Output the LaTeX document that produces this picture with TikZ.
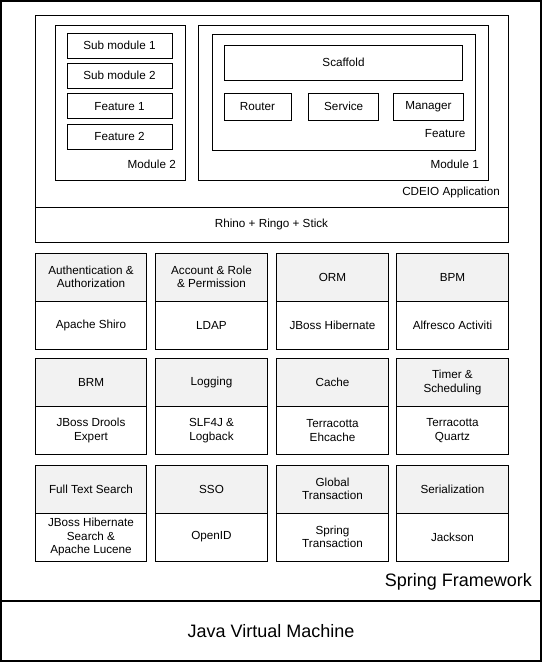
\documentclass[tikz,border=0pt]{standalone}
\usepackage{fontspec}
\setmainfont{Liberation Sans}
\definecolor{hdrgray}{HTML}{F2F2F2}

\begin{document}
\begin{tikzpicture}[x=1pt, y=-1pt,
	box/.style={draw, rectangle, line width=1pt, inner sep=0pt, outer sep=0pt, align=center, font=\fontsize{11.7}{13.5}\selectfont},
	hdr/.style={box, fill=hdrgray, minimum width=111.5pt, minimum height=48pt},
	body/.style={box, minimum width=111.5pt, minimum height=48pt},
	lbl/.style={inner sep=0pt, anchor=east, font=\fontsize{11.7}{13.5}\selectfont},
	big/.style={inner sep=0pt, font=\fontsize{18}{20}\selectfont}]
	\useasboundingbox[fill=white] (0,0) rectangle (544,662);
	% frame
	\node[box, line width=2pt, minimum width=540pt, minimum height=600pt] (Spring) at (271, 301) {};
	\node[box, line width=2pt, minimum width=540pt, minimum height=60pt] (JVM) at (271, 631) {};
	\node[big] (JVMtext) at (JVM.center) {Java Virtual Machine};
	\node[big, anchor=east] (Springtext) at (532, 582) {Spring Framework};
	% application
	\node[box, minimum width=473pt, minimum height=192pt] (App) at (271.5, 111) {};
	\node[box, minimum width=473pt, minimum height=35pt] (Rhino) at (271.5, 224.5) {Rhino + Ringo + Stick};
	\node[lbl] (Applbl) at (500, 192) {CDEIO Application};
	\node[box, minimum width=130pt, minimum height=155pt] (Mod2) at (120, 102.5) {};
	\node[lbl] (Mod2lbl) at (176, 164) {Module 2};
	\node[box, minimum width=105pt, minimum height=25pt] (Sub1) at (119.5, 45.5) {Sub module 1};
	\node[box, minimum width=105pt, minimum height=25pt] (Sub2) at (119.5, 75.8) {Sub module 2};
	\node[box, minimum width=105pt, minimum height=25pt] (Feat1) at (119.5, 106.2) {Feature 1};
	\node[box, minimum width=105pt, minimum height=25pt] (Feat2) at (119.5, 136.5) {Feature 2};
	\node[box, minimum width=290.5pt, minimum height=155pt] (Mod1) at (343.3, 102.5) {};
	\node[lbl] (Mod1lbl) at (479, 164) {Module 1};
	\node[box, minimum width=263pt, minimum height=116pt] (Feat) at (343.5, 92) {};
	\node[lbl] (Featlbl) at (465.5, 134) {Feature};
	\node[box, minimum width=238pt, minimum height=35pt] (Scaffold) at (343.5, 62.5) {Scaffold};
	\node[box, minimum width=67pt, minimum height=27pt] (Router) at (257.5, 106.7) {Router};
	\node[box, minimum width=70.5pt, minimum height=27pt] (Service) at (343.7, 106.7) {Service};
	\node[box, minimum width=70.5pt, minimum height=27pt] (Manager) at (428.5, 106.7) {Manager};
	% row 1
	\node[hdr] (Auth) at (91, 277) {Authentication \&\\Authorization};
	\node[body] (Shiro) at (91, 325) {Apache Shiro};
	\node[hdr] (Account) at (211.5, 277) {Account \& Role\\\& Permission};
	\node[body] (LDAP) at (211.5, 325) {LDAP};
	\node[hdr] (ORM) at (332.5, 277) {ORM};
	\node[body] (Hibernate) at (332.5, 325) {JBoss Hibernate};
	\node[hdr] (BPM) at (452.5, 277) {BPM};
	\node[body] (Activiti) at (452.5, 325) {Alfresco Activiti};
	% row 2
	\node[hdr] (BRM) at (91, 382.5) {BRM};
	\node[body] (Drools) at (91, 430.5) {JBoss Drools\\Expert};
	\node[hdr] (Logging) at (211.5, 382.5) {Logging};
	\node[body] (Logback) at (211.5, 430.5) {SLF4J \&\\Logback};
	\node[hdr] (Cache) at (332.5, 382.5) {Cache};
	\node[body] (Ehcache) at (332.5, 430.5) {Terracotta\\Ehcache};
	\node[hdr] (Timer) at (452.5, 382.5) {Timer \&\\Scheduling};
	\node[body] (Quartz) at (452.5, 430.5) {Terracotta\\Quartz};
	% row 3
	\node[hdr] (Search) at (91, 489) {Full Text Search};
	\node[body] (Lucene) at (91, 537) {JBoss Hibernate\\Search \&\\Apache Lucene};
	\node[hdr] (SSO) at (211.5, 489) {SSO};
	\node[body] (OpenID) at (211.5, 537) {OpenID};
	\node[hdr] (Trans) at (332.5, 489) {Global\\Transaction};
	\node[body] (SpringTrans) at (332.5, 537) {Spring\\Transaction};
	\node[hdr] (Serial) at (452.5, 489) {Serialization};
	\node[body] (Jackson) at (452.5, 537) {Jackson};
\end{tikzpicture}
\end{document}
